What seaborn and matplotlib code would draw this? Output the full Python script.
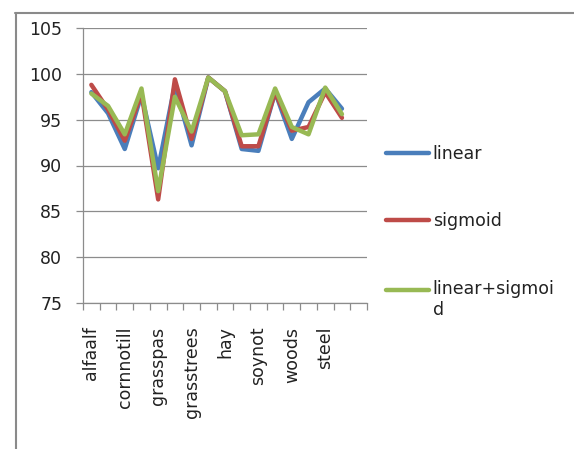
import matplotlib
matplotlib.use("Agg")
import matplotlib.pyplot as plt
from matplotlib.lines import Line2D
import seaborn as sns
import pandas as pd
import numpy as np

# class names (only every other one gets a label, Excel style)
classes = ['alfaalf', 'corn', 'cornnotill', 'cornmintill', 'grasspas',
           'grasspasmowed', 'grasstrees', 'oats', 'hay', 'soymintill',
           'soynot', 'soyclean', 'woods', 'wheat', 'steel', 'buildings', '']

linear = [98.0, 95.7, 91.8, 97.7, 89.7, 98.8, 92.2, 99.6,
          98.1, 91.8, 91.6, 98.0, 92.9, 96.9, 98.4, 96.2]
sigmoid = [98.8, 96.1, 92.7, 97.9, 86.3, 99.4, 92.9, 99.6,
           98.1, 92.1, 92.1, 98.0, 93.8, 94.2, 98.0, 95.2]
linear_sigmoid = [97.85, 96.5, 93.4, 98.4, 87.2, 97.5, 93.7, 99.6,
                  98.1, 93.3, 93.4, 98.4, 94.2, 93.4, 98.5, 95.6]

series_order = ['linear', 'sigmoid', 'linear+sigmoid']
palette = {
    'linear': '#4a7ebb',
    'sigmoid': '#be4b48',
    'linear+sigmoid': '#98b954',
}

rows = []
for name, vals in zip(series_order, [linear, sigmoid, linear_sigmoid]):
    for i, v in enumerate(vals):
        rows.append({'pos': i, 'class': classes[i], 'accuracy': v, 'method': name})
data = pd.DataFrame(rows)

sns.set_theme(style='ticks')
plt.rcParams['font.family'] = ['DejaVu Sans']

grey = '#8c8c8c'
fs = 12.5

fig = plt.figure(figsize=(5.74, 4.49), dpi=100)
fig.patch.set_facecolor('white')
ax = fig.add_axes([83 / 574, 1 - 303 / 449, (367 - 83) / 574, (303 - 28) / 449])

sns.lineplot(data=data, x='pos', y='accuracy', hue='method',
             hue_order=series_order, palette=palette, linewidth=3.2,
             sort=False, legend=False, ax=ax)

# y axis
ax.set_ylim(75, 105)
ax.set_yticks(range(75, 106, 5))
ax.yaxis.grid(True, color=grey, linewidth=0.9)
ax.set_axisbelow(True)
ax.tick_params(axis='y', length=5, width=0.9, color=grey, pad=10,
               labelsize=fs, labelcolor='#222222')

# x axis: tick marks between categories, labels on every other class
ax.set_xlim(-0.5, len(classes) - 0.5)
ax.set_xticks(np.arange(-0.5, len(classes), 1), minor=True)
ax.set_xticks(range(0, len(classes), 2))
ax.set_xticklabels(classes[::2], rotation=90, va='top')
ax.tick_params(axis='x', which='major', length=0, pad=17,
               labelsize=fs, labelcolor='#222222')
ax.tick_params(axis='x', which='minor', length=5, width=0.9, color=grey)

ax.set_xlabel('')
ax.set_ylabel('')
for side in ['top', 'right']:
    ax.spines[side].set_visible(False)
for side in ['left', 'bottom']:
    ax.spines[side].set_color(grey)
    ax.spines[side].set_linewidth(0.9)

# legend to the right, last label wraps like in the original
handles = ax.get_lines()[:3]
labels = ['linear', 'sigmoid', 'linear+sigmoi\nd']
leg = ax.legend(handles, labels, loc='upper left',
                bbox_to_anchor=(386 / 574, 1 - 145 / 449),
                bbox_transform=fig.transFigure, frameon=False,
                borderpad=0, borderaxespad=0, handlelength=2.5,
                handletextpad=0.2, labelspacing=2.85, fontsize=fs)
for t in leg.get_texts():
    t.set_color('#222222')
# keep the green handle on the first line of its wrapped label
h = leg.legend_handles[2]
h.set_ydata(np.asarray(h.get_ydata()) + 7.5)

# outer chart frame
fig.add_artist(Line2D([15.5 / 574, 15.5 / 574], [0, 1 - 12.5 / 449],
                      transform=fig.transFigure, color='#8a8a8a', lw=1.5))
fig.add_artist(Line2D([15 / 574, 1], [1 - 12.5 / 449, 1 - 12.5 / 449],
                      transform=fig.transFigure, color='#8a8a8a', lw=1.5))

fig.savefig('out.png', dpi=100)
